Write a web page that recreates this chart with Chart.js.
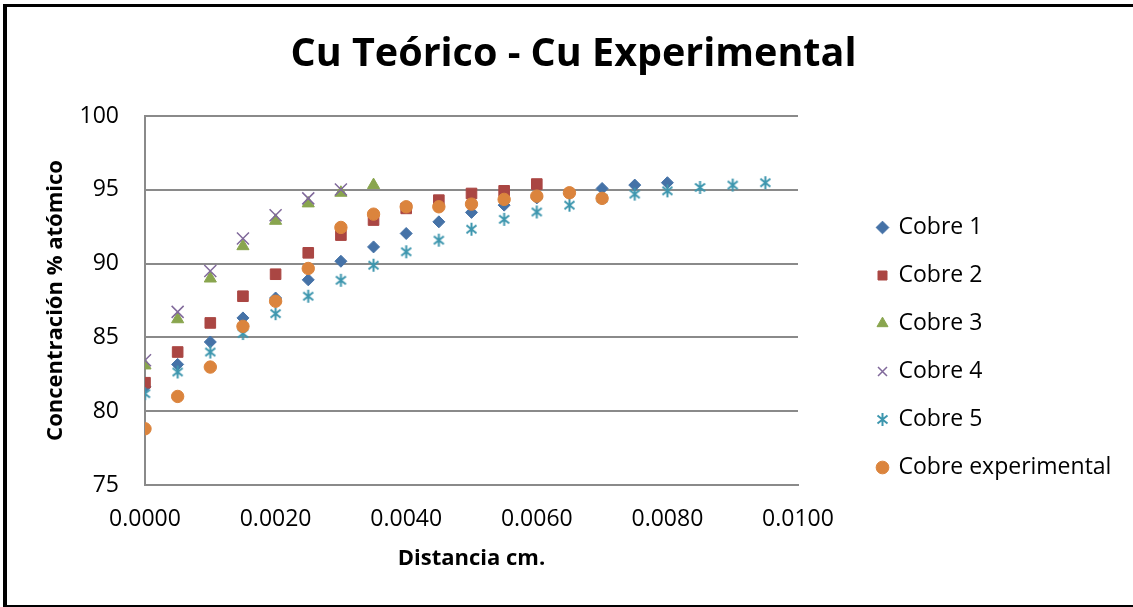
<!DOCTYPE html>
<html>
<head>
<meta charset="utf-8">
<script src="https://cdn.jsdelivr.net/npm/chart.js@4.4.1/dist/chart.umd.min.js"></script>
<style>
  html, body { margin: 0; padding: 0; background: #fff; }
  #wrap { position: relative; width: 1133px; height: 607px; }
</style>
</head>
<body>
<div id="wrap"><canvas id="grafico"></canvas></div>
<script>
// distancia (cm) de cada medición
const distancias = [0, 0.0005, 0.0010, 0.0015, 0.0020, 0.0025, 0.0030, 0.0035, 0.0040, 0.0045,
                    0.0050, 0.0055, 0.0060, 0.0065, 0.0070, 0.0075, 0.0080, 0.0085, 0.0090, 0.0095];

// concentración % atómico, una lista por serie (empiezan todas en 0 cm)
const cobre1 = [81.65, 83.17, 84.69, 86.32, 87.67, 88.90, 90.16, 91.13, 92.04, 92.83,
                93.47, 93.96, 94.45, 94.75, 95.09, 95.32, 95.48];
const cobre2 = [81.93, 84.01, 85.98, 87.79, 89.28, 90.73, 91.93, 92.95, 93.74, 94.30,
                94.75, 94.93, 95.39];
const cobre3 = [83.10, 86.23, 88.99, 91.18, 92.90, 94.08, 94.80, 95.32];
const cobre4 = [83.45, 86.73, 89.50, 91.70, 93.28, 94.42, 95.02];
const cobre5 = [81.19, 82.66, 84.01, 85.26, 86.61, 87.79, 88.87, 89.89, 90.80, 91.59,
                92.33, 93.00, 93.50, 93.96, 94.42, 94.71, 94.93, 95.16, 95.32, 95.48];
const cobreExp = [78.81, 81.00, 82.99, 85.75, 87.45, 89.67, 92.45, 93.35, 93.85, 93.85,
                  94.03, 94.35, 94.57, 94.80, 94.42];

const nombres = ['Cobre 1', 'Cobre 2', 'Cobre 3', 'Cobre 4', 'Cobre 5', 'Cobre experimental'];
const series = [cobre1, cobre2, cobre3, cobre4, cobre5, cobreExp];
const colores = ['#4572A7', '#AA4643', '#89A54E', '#80699B', '#3D96AE', '#DB843D'];

function puntos(serie) {
  return serie.map((y, i) => ({ x: distancias[i], y: y }));
}

// marcador asterisco (aspa + barra vertical)
function asterisco(color) {
  const c = document.createElement('canvas');
  c.width = 15; c.height = 15;
  const g = c.getContext('2d');
  g.strokeStyle = color;
  g.lineWidth = 2;
  g.beginPath();
  g.moveTo(7.5, 1); g.lineTo(7.5, 14);
  g.moveTo(2.5, 3.5); g.lineTo(12.5, 11.5);
  g.moveTo(12.5, 3.5); g.lineTo(2.5, 11.5);
  g.stroke();
  return c;
}

const estilos = ['rectRot', 'rect', 'triangle', 'crossRot', asterisco(colores[4]), 'circle'];
const radios = [6, 7.5, 7, 8.5, 7, 6.2];

// leyenda a la derecha: se ajusta el relleno según el ancho del texto más largo
const fuente = "'Open Sans'";
const tamLeyenda = 23;
const sepLeyenda = 25;
const cajaLeyenda = 9;
const medidor = document.createElement('canvas').getContext('2d');
medidor.font = tamLeyenda + 'px ' + fuente;
const anchoTexto = Math.max(...nombres.map(n => medidor.measureText(n).width));
const anchoLeyenda = sepLeyenda + cajaLeyenda + tamLeyenda / 2 + anchoTexto + 10;
const izqLeyenda = 853;
const padDer = Math.max(0, 1133 - izqLeyenda - anchoLeyenda);
const padIzq = padDer + 14;
const bordeIzq = 145;
const bordeDer = 798;

const marco = {
  id: 'marco',
  afterDraw(chart) {
    const ctx = chart.ctx;
    ctx.save();
    ctx.fillStyle = '#000';
    ctx.fillRect(3, 4, 4, 603);
    ctx.fillRect(3, 4, 1130, 3);
    ctx.fillRect(3, 605, 1130, 2);
    ctx.restore();
  }
};

const ctx = document.getElementById('grafico').getContext('2d');
const grafico = new Chart(ctx, {
  type: 'scatter',
  data: {
    datasets: series.map((s, i) => ({
      label: nombres[i],
      data: puntos(s),
      order: series.length - 1 - i,
      pointStyle: estilos[i],
      pointRadius: radios[i],
      backgroundColor: colores[i],
      borderColor: colores[i],
      borderWidth: i === 3 ? 1.5 : 1,
      showLine: false
    }))
  },
  options: {
    responsive: true,
    maintainAspectRatio: false,
    animation: false,
    events: [],
    devicePixelRatio: 1,
    layout: { padding: { left: padIzq, right: padDer, top: 0, bottom: 0 } },
    plugins: {
      title: {
        display: true,
        text: 'Cu Teórico - Cu Experimental',
        color: '#000',
        font: { family: fuente, size: 39.5, weight: 'bold' },
        padding: { top: 31, bottom: 37.6 }
      },
      legend: {
        position: 'right',
        maxWidth: 400,
        title: { display: true, text: '', padding: 0, font: { size: 88, lineHeight: 1 } },
        labels: {
          usePointStyle: true,
          boxWidth: cajaLeyenda,
          boxHeight: cajaLeyenda,
          padding: sepLeyenda,
          color: '#000',
          font: { family: fuente, size: tamLeyenda },
          sort: (a, b) => a.datasetIndex - b.datasetIndex
        }
      },
      tooltip: { enabled: false }
    },
    scales: {
      x: {
        type: 'linear',
        min: 0,
        max: 0.01,
        grid: { display: false, drawTicks: false },
        border: { display: true, color: '#8a8a8a', width: 2 },
        ticks: {
          stepSize: 0.002,
          autoSkip: false,
          maxRotation: 0,
          padding: 21,
          color: '#000',
          font: { family: fuente, size: 23 },
          callback: v => v.toFixed(4)
        },
        title: {
          display: true,
          text: 'Distancia cm.',
          color: '#000',
          font: { family: fuente, size: 22, weight: 'bold' },
          padding: { top: 0, bottom: 35.5 }
        },
        afterFit: s => { s.height = 122; }
      },
      y: {
        min: 75,
        max: 100,
        grid: { color: '#8a8a8a', lineWidth: 2, drawTicks: false },
        border: { display: true, color: '#8a8a8a', width: 2 },
        ticks: {
          stepSize: 5,
          padding: 26,
          color: '#000',
          font: { family: fuente, size: 23 }
        },
        title: {
          display: true,
          text: 'Concentración % atómico',
          color: '#000',
          font: { family: fuente, size: 22, weight: 'bold' },
          padding: { top: 56 - padIzq - 13.2, bottom: 0 }
        },
        afterFit: s => { s.width = bordeIzq - padIzq; }
      },
      hueco: {
        type: 'linear',
        position: 'right',
        display: true,
        grid: { display: false, drawTicks: false },
        border: { display: false },
        ticks: { display: false },
        afterFit: s => { s.width = izqLeyenda - bordeDer; }
      }
    }
  },
  plugins: [marco]
});
</script>
</body>
</html>
